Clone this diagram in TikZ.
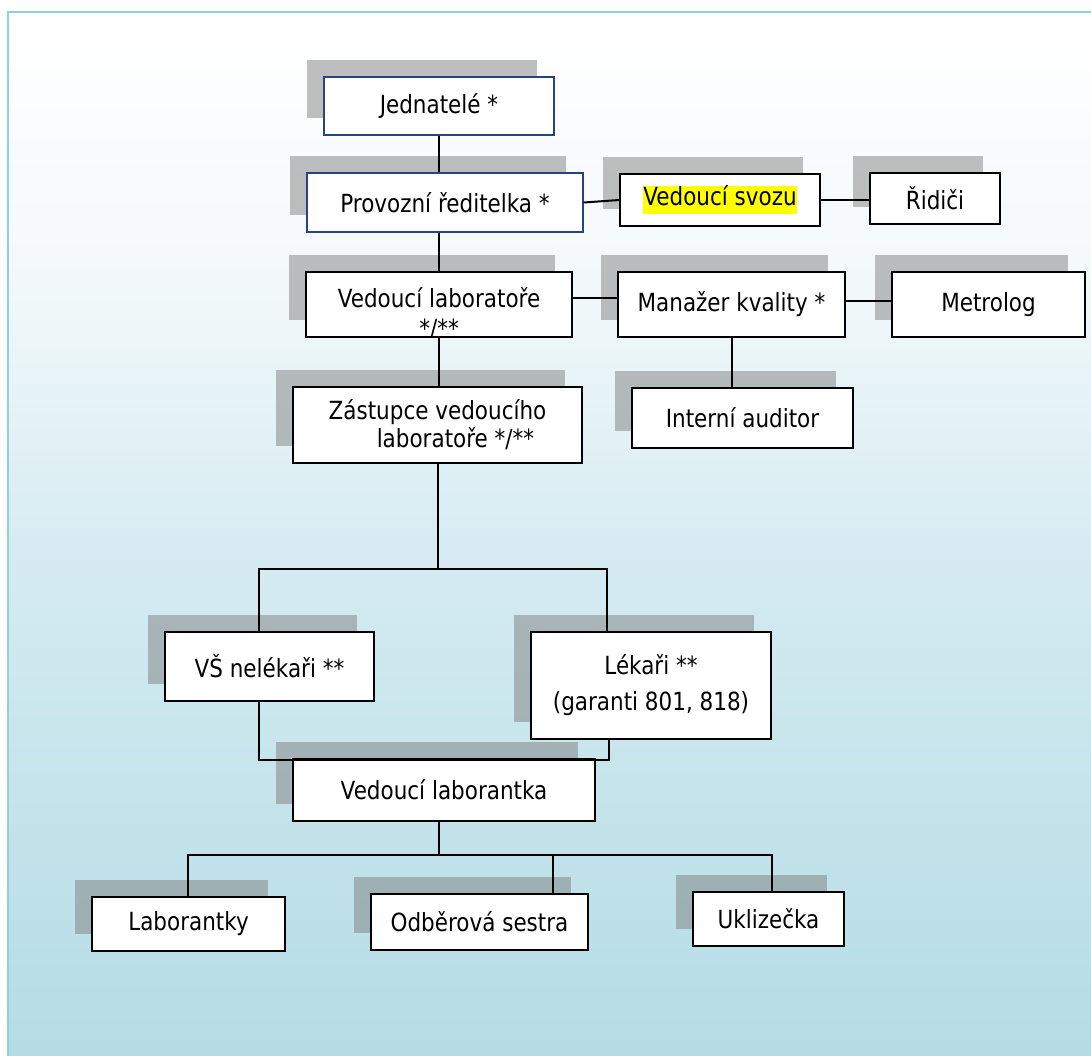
\documentclass[tikz,border=0pt]{standalone}
\usepackage{fontspec}
\setmainfont{DejaVu Sans}[FakeStretch=0.86]
\usetikzlibrary{shadows}
\definecolor{navy}{RGB}{40,66,130}
\definecolor{framecol}{RGB}{143,208,220}
\definecolor{bgdeep}{RGB}{180,219,229}
\definecolor{bgmid}{RGB}{212,235,241}
\definecolor{bglight}{RGB}{244,249,251}
\definecolor{hilite}{RGB}{255,255,0}
\pgfdeclareverticalshading{pageshade}{100bp}{color(0bp)=(bgdeep); color(25bp)=(bgdeep); color(48.5bp)=(bgmid); color(63bp)=(bglight); color(75bp)=(white); color(100bp)=(white)}
\setlength{\fboxsep}{0pt}
\begin{document}
\begin{tikzpicture}[x=1pt,y=-1pt,
  orgbox/.style={draw=black,line width=2pt,fill=white,inner sep=0pt,align=center,
    font=\fontsize{25}{28}\selectfont,
    drop shadow={shadow xshift=-17pt,shadow yshift=17pt,fill=gray,opacity=0.5}},
  topbox/.style={orgbox,draw=navy,line width=1.4pt},
  link/.style={draw=black,line width=2pt}]
\useasboundingbox (0,0) rectangle (1091,1055);
\shade[shading=pageshade] (8,12) rectangle (1100,1064);
\draw[framecol,line width=1.2pt] (8,1064) -- (8,12) -- (1100,12);

\node[topbox,minimum width=230pt,minimum height=58pt] (jed) at (439,106) {Jednatelé *};
\node[topbox,minimum width=276pt,minimum height=59pt] (prov) at (445,202.5) {Provozní ředitelka *};
\node[orgbox,minimum width=200pt,minimum height=52pt] (svoz) at (720,200) {\colorbox{hilite}{\strut Vedoucí svozu}};
\node[orgbox,minimum width=130pt,minimum height=51pt] (ridici) at (935,198.5) {Řidiči};
\node[orgbox,minimum width=266pt,minimum height=65pt,text depth=14pt] (vedlab) at (439,304.5) {Vedoucí laboratoře};
\node[orgbox,minimum width=227pt,minimum height=65pt] (mankval) at (731.5,304.5) {Manažer kvality *};
\node[orgbox,minimum width=193pt,minimum height=65pt] (metrolog) at (988.5,304.5) {Metrolog};
\node[orgbox,minimum width=221pt,minimum height=60pt] (audit) at (742.5,418) {Interní auditor};
\node[orgbox,minimum width=289pt,minimum height=76pt] (zast) at (437.5,425) {Zástupce vedoucího\\\hspace*{36pt}laboratoře */**};
\node[orgbox,minimum width=209pt,minimum height=69pt] (vs) at (269.5,666.5) {VŠ nelékaři **};
\node[orgbox,minimum width=240pt,minimum height=107pt] (lek) at (651,685.5) {Lékaři **\\[8pt](garanti 801, 818)};
\node[orgbox,minimum width=302pt,minimum height=62pt] (vlab) at (444,790) {Vedoucí laborantka};
\node[orgbox,minimum width=193pt,minimum height=54pt] (labky) at (188.5,924) {Laborantky};
\node[orgbox,minimum width=217pt,minimum height=56pt] (odb) at (479.5,922) {Odběrová sestra};
\node[orgbox,minimum width=151pt,minimum height=54pt] (ukl) at (768.5,919) {Uklizečka};

\begin{scope}
\clip ([shift={(1pt,1pt)}]vedlab.south west) rectangle ([shift={(-1pt,-1pt)}]vedlab.north east);
\node[font=\fontsize{25}{28}\selectfont,anchor=base,inner sep=0pt] (vedlabstar) at (439,337) {*/**};
\end{scope}

\draw[link] (jed.south) -- (jed.south |- prov.north);
\draw[link] (vedlab.north) -- (vedlab.north |- prov.south);
\draw[link] (vedlab.south) -- (vedlab.south |- zast.north);
\draw[link] (prov.east) -- (svoz.west);
\draw[link] (svoz.east) -- (svoz.east -| ridici.west);
\draw[link] ([yshift=7pt]vedlab.east) -- ([yshift=7pt]vedlab.east -| mankval.west);
\draw[link] ([yshift=4pt]mankval.east) -- ([yshift=4pt]mankval.east -| metrolog.west);
\draw[link] (mankval.south) -- (mankval.south |- audit.north);

\coordinate (splitA) at (438,569);
\coordinate (splitAl) at (259,569);
\coordinate (splitAr) at (607,569);
\draw[link] (splitA |- zast.south) -- (splitA);
\draw[link] (splitAl |- vs.north) -- (splitAl) -- (splitAr) -- (splitAr |- lek.north);

\coordinate (joinBl) at (259,760);
\coordinate (joinBm) at (439,760);
\coordinate (joinBr) at (609,760);
\draw[link] (joinBl |- vs.south) -- (joinBl) -- (joinBr) -- (joinBr |- lek.south);
\draw[link] (joinBm) -- (joinBm |- vlab.north);

\coordinate (splitCl) at (188,855);
\coordinate (splitCm) at (439,855);
\coordinate (splitCo) at (553,855);
\coordinate (splitCr) at (772,855);
\draw[link] (splitCm |- vlab.south) -- (splitCm);
\draw[link] (splitCl |- labky.north) -- (splitCl) -- (splitCr) -- (splitCr |- ukl.north);
\draw[link] (splitCo) -- (splitCo |- odb.north);
\end{tikzpicture}
\end{document}
